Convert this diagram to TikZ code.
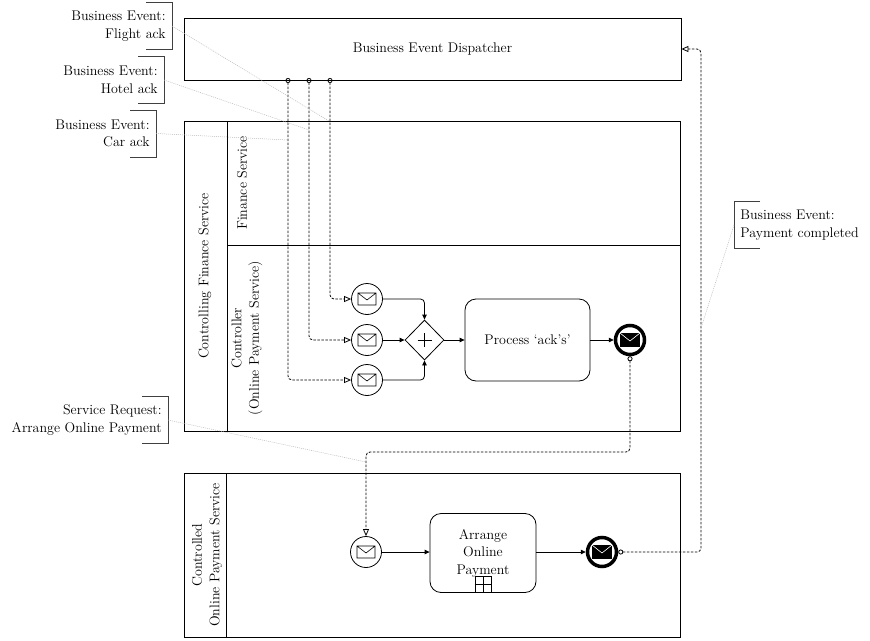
\documentclass[tikz,border=0pt]{standalone}
\usetikzlibrary{arrows.meta,shapes.geometric,positioning}
\tikzset{every picture/.style={line width=0.8pt}}
\tikzset{
  mailicon/.pic={\draw[line width=0.6pt,fill=white] (-9,-6) rectangle (9,6) (-9,-6) -- (0,1) -- (9,-6);},
  mailfull/.pic={\fill (-10,-7) rectangle (10,7); \draw[white,line width=0.6pt] (-10,-7) -- (0,1) -- (10,-7);}
}

\begin{document}
\begin{tikzpicture}[x=1pt,y=-1pt,
    every node/.style={font=\fontsize{14}{17.5}\selectfont},
    lanelabel/.style={rotate=90,align=center},
    task/.style={draw,rounded corners=11pt,align=center,inner sep=0pt},
    msgin/.style={draw,circle,minimum size=31pt,inner sep=0pt},
    msgout/.style={draw,circle,line width=3.5pt,minimum size=29pt,inner sep=0pt},
    andgate/.style={draw,diamond,minimum width=39pt,minimum height=40pt,inner sep=0pt},
    seqflow/.style={-{Triangle[length=5pt,width=4.5pt]},rounded corners=4pt},
    msgflow/.style={{Circle[open,length=5pt,width=5pt]}-{Triangle[open,length=7pt,width=6pt]},
        dash pattern=on 2.5pt off 1.5pt,rounded corners=4pt},
    noteleft/.style={anchor=east,align=right,minimum height=46pt,inner xsep=6pt,inner ysep=0pt},
    noteright/.style={anchor=west,align=left,minimum height=46pt,inner xsep=6pt,inner ysep=0pt},
    bracket/.style={black!75},
    assoc/.style={gray!55,line width=0.5pt,dash pattern=on 1pt off 1pt}]
    \useasboundingbox (0,0) rectangle (870,640);

    % pools and lanes
    \node[draw,minimum width=497pt,minimum height=62pt] (dispatch) at (432.5,49) {Business Event Dispatcher};
    \draw (184,121) rectangle (680,431);
    \draw (227,121) -- (227,431);
    \draw (227,245) -- (680,245);
    \draw (184,473) rectangle (680,637);
    \draw (226,473) -- (226,637);
    \node[lanelabel] (ctrlpool) at (205,276) {Controlling Finance Service};
    \node[lanelabel] (finlane) at (242,183) {Finance Service};
    \node[lanelabel] (ctrllane) at (247,338) {Controller\\(Online Payment Service)};
    \node[lanelabel] (paypool) at (207,555) {Controlled\\Online Payment Service};

    % controller lane
    \node[msgin] (flightin) at (367,299) {};
    \node[msgin] (hotelin) at (367,340) {};
    \node[msgin] (carin) at (367,380) {};
    \foreach \n in {flightin,hotelin,carin} { \pic at (\n) {mailicon}; }
    \node[andgate] (gate) at (424.5,340) {};
    \draw (gate.center) +(-7,0) -- +(7,0) +(0,-7) -- +(0,7);
    \node[task,minimum width=125pt,minimum height=82pt] (ackproc) at (527.5,340) {Process `ack's'};
    \node[msgout] (ackend) at (630,340) {};
    \pic at (ackend) {mailfull};

    \draw[seqflow] (flightin) -| (gate);
    \draw[seqflow] (hotelin) -- (gate);
    \draw[seqflow] (carin) -| (gate);
    \draw[seqflow] (gate) -- (ackproc);
    \draw[seqflow] (ackproc) -- (ackend);

    % controlled pool
    \node[msgin] (payin) at (366,552) {};
    \pic at (payin) {mailicon};
    \node[task,minimum width=106pt,minimum height=79pt] (paytask) at (483,553) {Arrange\\Online\\Payment};
    \node[draw,minimum size=16pt,inner sep=0pt,anchor=south] (paymark) at (paytask.south) {};
    \draw (paymark.north) -- (paymark.south) (paymark.west) -- (paymark.east);
    \node[msgout] (payend) at (602,552) {};
    \pic at (payend) {mailfull};

    \draw[seqflow] (payin) -- (payin -| paytask.west);
    \draw[seqflow] (payin -| paytask.east) -- (payend);

    % message flows
    \coordinate (flightsrc) at (330,78);
    \coordinate (hotelsrc) at (309,78);
    \coordinate (carsrc) at (288,78);
    \coordinate (payturn) at (366,452);
    \coordinate (paidturn) at (701,49);
    \draw[msgflow] (flightsrc) |- (flightin);
    \draw[msgflow] (hotelsrc) |- (hotelin);
    \draw[msgflow] (carsrc) |- (carin);
    \draw[msgflow] (ackend) |- (payturn) -- (payin);
    \draw[msgflow] (payend) -| (paidturn) -- (dispatch.east);

    % annotations
    \node[noteleft] (flightnote) at (172,26) {Business Event:\\Flight ack};
    \node[noteleft] (hotelnote) at (164,80) {Business Event:\\Hotel ack};
    \node[noteleft] (carnote) at (156,133.5) {Business Event:\\Car ack};
    \node[noteleft] (reqnote) at (168,420) {Service Request:\\Arrange Online Payment};
    \node[noteright] (paidnote) at (734,225) {Business Event:\\Payment completed};
    \foreach \n in {flightnote,hotelnote,carnote,reqnote}
        \draw[bracket] ([xshift=-26pt]\n.north east) -- (\n.north east) -- (\n.south east) -- ([xshift=-26pt]\n.south east);
    \draw[bracket] ([xshift=26pt]paidnote.north west) -- (paidnote.north west) -- (paidnote.south west) -- ([xshift=26pt]paidnote.south west);

    \coordinate (flighthit) at (329,121);
    \coordinate (hotelhit) at (309,130);
    \coordinate (carhit) at (288,140);
    \coordinate (reqhit) at (366,462);
    \coordinate (paidhit) at (701,328);
    \draw[assoc] (flightnote.east) -- (flighthit);
    \draw[assoc] (hotelnote.east) -- (hotelhit);
    \draw[assoc] (carnote.east) -- (carhit);
    \draw[assoc] (reqnote.east) -- (reqhit);
    \draw[assoc] (paidnote.west) -- (paidhit);
\end{tikzpicture}
\end{document}
